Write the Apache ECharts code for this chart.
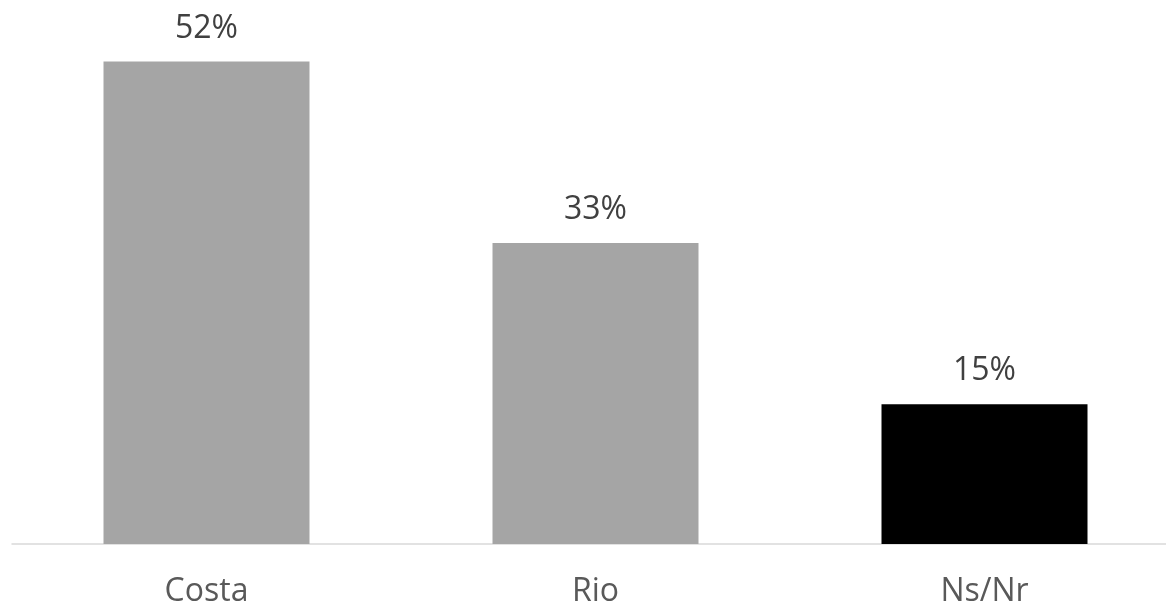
<!DOCTYPE html>
<html>
<head>
<meta charset="utf-8">
<script src="https://cdn.jsdelivr.net/npm/echarts@6/dist/echarts.min.js"></script>
<style>html,body{margin:0;padding:0;background:#fff;}#c{width:1166px;height:609px;}</style>
</head>
<body>
<div id="c"></div>
<script>
const categories = ['Costa', 'Rio', 'Ns/Nr'];
const values = [52.1, 32.5, 15.1];
const barColors = ['#a5a5a5', '#a5a5a5', '#000000'];

const chart = echarts.init(document.getElementById('c'), null, {renderer: 'canvas'});
chart.setOption({
  animation: false,
  backgroundColor: '#ffffff',
  grid: {left: 12, top: 44, width: 1167, height: 500, containLabel: false, outerBoundsMode: 'none'},
  xAxis: {
    type: 'category',
    data: categories,
    axisLine: {show: true, lineStyle: {color: '#d9d9d9', width: 1.5}},
    axisTick: {show: false},
    axisLabel: {color: '#595959', fontSize: 32, fontFamily: 'Open Sans', margin: 32}
  },
  yAxis: {
    type: 'value', min: 0, max: 54,
    show: false,
    splitLine: {show: false}
  },
  series: [{
    type: 'bar',
    barWidth: 206,
    data: values.map((v, i) => ({value: v, itemStyle: {color: barColors[i]}})),
    label: {
      show: true, position: 'top', distance: 17,
      color: '#404040', fontSize: 32, fontFamily: 'Open Sans',
      formatter: p => Math.round(p.value) + '%'
    }
  }]
});
</script>
</body>
</html>
